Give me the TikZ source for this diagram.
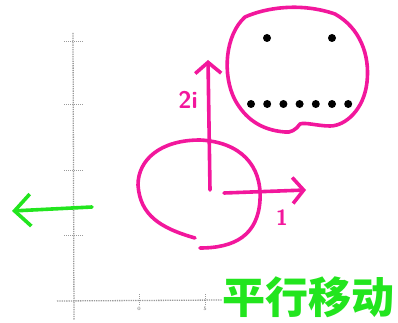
\documentclass[tikz,border=0pt]{standalone}
\usepackage{fontspec}
\usepackage{xcolor}
\usetikzlibrary{arrows.meta}
\newfontfamily\cjk{Noto Sans CJK SC}
\definecolor{pinkpen}{HTML}{F2179C}
\definecolor{greenpen}{HTML}{22E51E}
\definecolor{axisgray}{HTML}{9A9A9A}

\begin{document}
\begin{tikzpicture}[
  x=1pt, y=-1pt,
  pen/.style={draw=pinkpen,line width=3.6pt,line cap=round,line join=round},
  ar/.style={pen,-{Straight Barb[length=11pt,width=26pt,line width=3.6pt]}},
  gar/.style={draw=greenpen,line width=3.6pt,line cap=round,-{Straight Barb[length=16pt,width=32pt,line width=3.6pt]}},
  axis/.style={draw=axisgray,line width=1.3pt,densely dotted},
  tick/.style={draw=axisgray,line width=1pt,densely dotted},
  dot/.style={circle,fill=black,inner sep=0pt,minimum size=8pt},
  ticklabel/.style={font=\tiny,text=black!70,inner sep=0pt}
]
\useasboundingbox (0,0) rectangle (398,323);
% faint axes
\coordinate (ytop) at (73,33);
\coordinate (ybot) at (74,320);
\coordinate (xleft) at (57,301);
\coordinate (xright) at (222,300);
\draw[axis] (ytop) -- (ybot);
\draw[axis] (xleft) -- (xright);
\foreach \y in {42,105,170,235}
  \draw[tick] (64,\y) -- (84,\y);
\foreach \x in {139,205}
  \draw[tick] (\x,294) -- (\x,306);
\node[ticklabel] (lzero) at (139,309) {0};
\node[ticklabel] (lfive) at (205,309) {5};
% green arrow
\coordinate (gtail) at (92,207);
\coordinate (ghead) at (12,211);
\draw[gar] (gtail) -- (ghead);
% pink circle
\draw[pen] (195,238) .. controls (160,228) and (140,215) .. (138,185)
  .. controls (138,160) and (160,140) .. (200,140)
  .. controls (240,142) and (262,165) .. (260,200)
  .. controls (258,235) and (235,248) .. (200,248);
% arrows
\coordinate (o) at (210,190);
\coordinate (up) at (208,60);
\coordinate (ostart) at (224,193);
\coordinate (rt) at (306,190);
\draw[ar] (o) -- (up);
\draw[ar] (ostart) -- (rt);
\node[text=pinkpen,font=\sffamily\bfseries\fontsize{24}{24}\selectfont] (ltwo) at (188,100) {2i};
\node[text=pinkpen,font=\sffamily\bfseries\fontsize{22}{22}\selectfont] (lone) at (282,218) {1};
% blob
\draw[pen] (235,100) .. controls (222,75) and (225,35) .. (245,17)
  .. controls (265,8) and (300,2) .. (335,14)
  .. controls (360,28) and (370,55) .. (367,82)
  .. controls (364,110) and (345,126) .. (330,126)
  .. controls (318,126) and (305,122) .. (300,124)
  .. controls (296,130) and (290,133) .. (285,132)
  .. controls (260,130) and (245,118) .. (235,100);
\node[dot] (e1) at (267,38) {};
\node[dot] (e2) at (332,38) {};
\foreach \i in {0,...,6}
  \node[dot] (m\i) at (251+16.2*\i,104) {};
% green text
\node[anchor=west,text=greenpen,font=\cjk\bfseries\fontsize{43}{43}\selectfont,inner sep=0pt] (title) at (222,297) {平行移动};
\end{tikzpicture}
\end{document}
